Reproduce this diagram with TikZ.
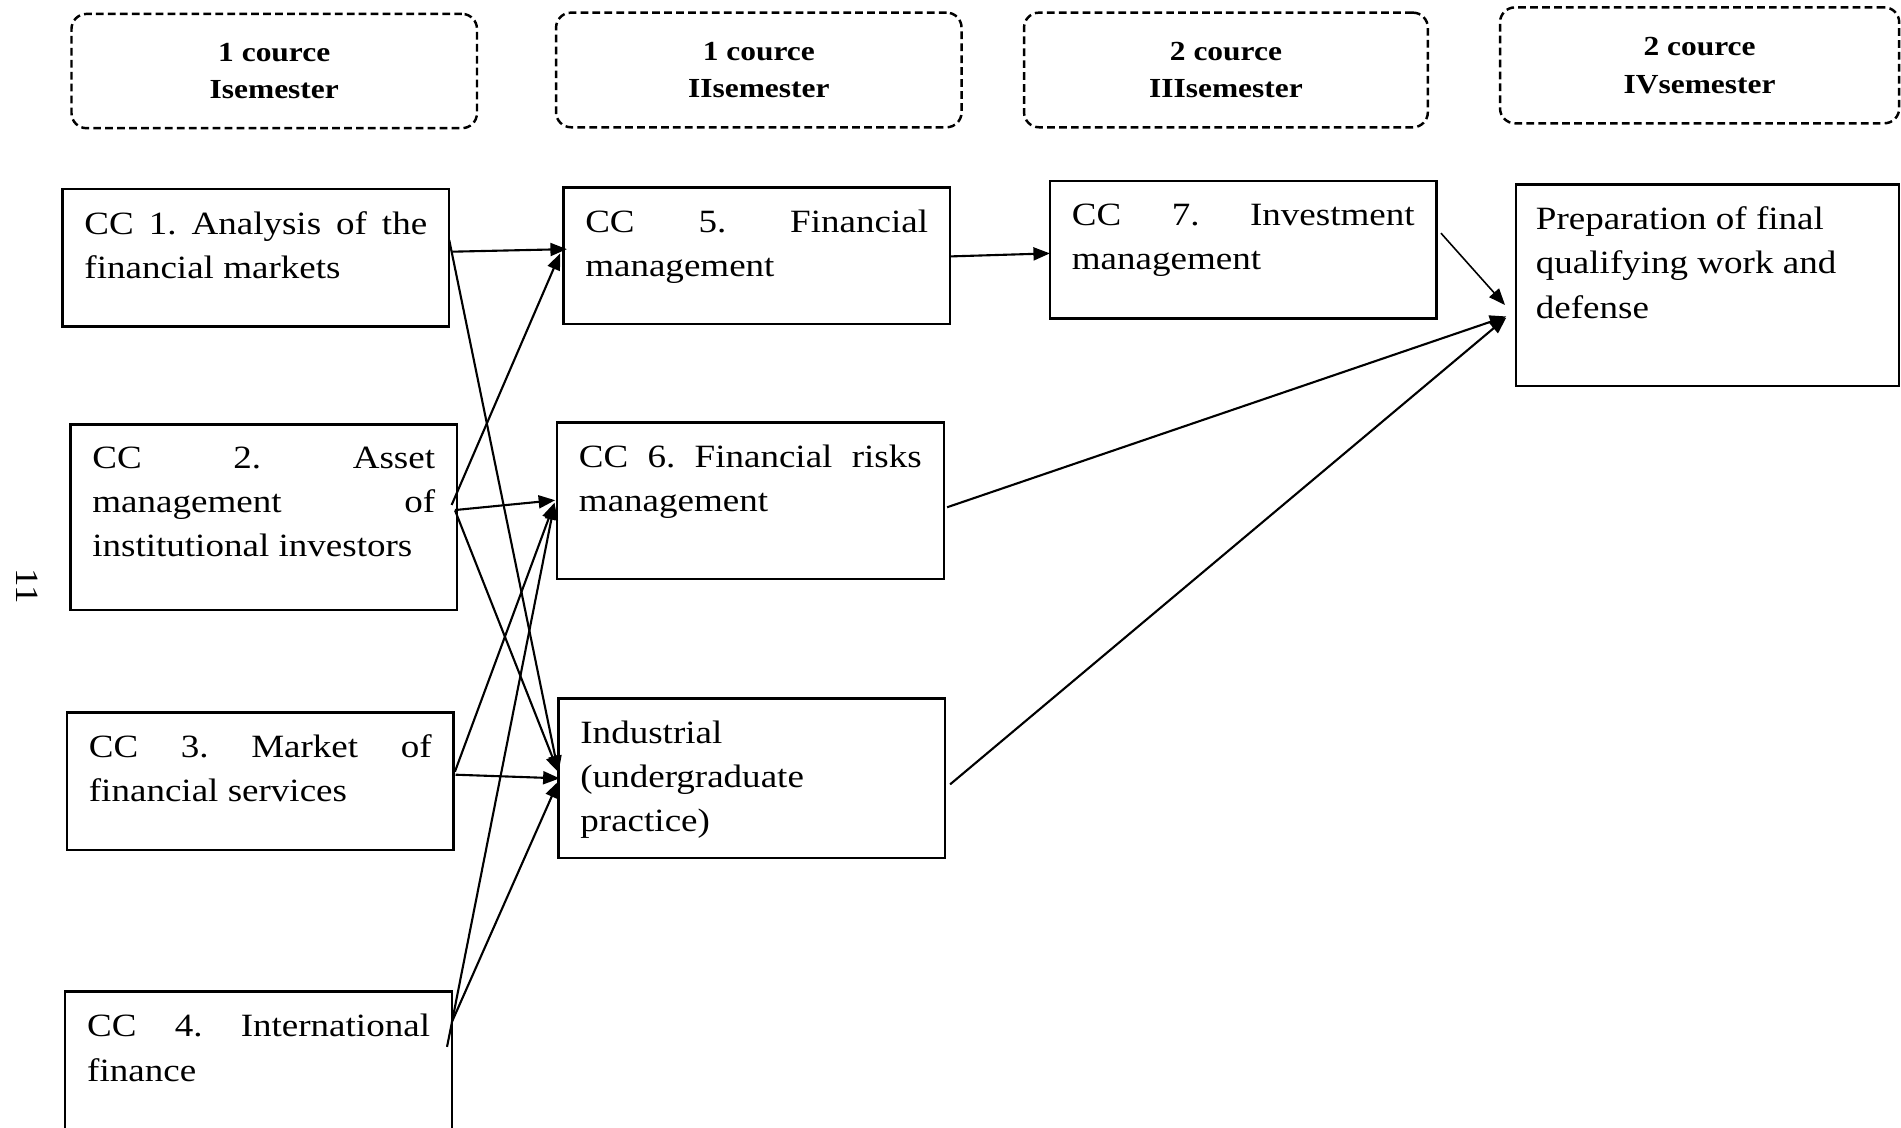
\documentclass[tikz,border=0pt]{standalone}
\usepackage{fontspec}
\setmainfont{Liberation Serif}[FakeStretch=1.14]
\usetikzlibrary{arrows.meta,calc}
\frenchspacing
\newcommand{\bodyfont}{\fontsize{9.25}{12.6}\selectfont}
\newcommand{\hdrfont}{\fontsize{7.85}{10.7}\selectfont\bfseries}
\newcommand{\jl}[1]{\makebox[\linewidth][s]{#1}}
\newcommand{\boxtext}[2]{\parbox[t][#1][t]{3.43cm}{#2}}
\begin{document}
\begin{tikzpicture}[x=0.012124cm,y=-0.012124cm,
  hdr/.style={draw, line width=0.7pt, dash pattern=on 2.2pt off 1.2pt, rounded corners=0.15cm, align=center, font=\hdrfont, inner sep=0pt},
  cbox/.style={draw, line width=0.7pt, anchor=north west, inner xsep=0.22cm, inner ysep=0.225cm, outer sep=0pt, font=\bodyfont},
  conn/.style={line width=0.6pt, -{Triangle[length=1.65mm,width=1.3mm]}}]
\useasboundingbox (0,0) rectangle (1568,930);

% header boxes
\node[hdr, minimum width=4.057cm, minimum height=1.143cm] (h1) at (226.2,58.6) {1 cource\\Isemester};
\node[hdr, minimum width=4.057cm, minimum height=1.147cm] (h2) at (625.9,57.7) {1 cource\\IIsemester};
\node[hdr, minimum width=4.040cm, minimum height=1.147cm] (h3) at (1011.2,57.7) {2 cource\\IIIsemester};
\node[hdr, minimum width=3.994cm, minimum height=1.160cm] (h4) at (1401.9,53.9) {2 cource\\IVsemester};

% course boxes
\node[cbox] (cc1) at (51.5,156) {\boxtext{0.925cm}{\jl{CC 1. Analysis of the}\\financial markets}};
\node[cbox] (cc2) at (58,350) {\boxtext{1.405cm}{\jl{CC 2. Asset}\\\jl{management of}\\institutional investors}};
\node[cbox] (cc3) at (55.2,587.5) {\boxtext{0.926cm}{\jl{CC 3. Market of}\\financial services}};
\node[cbox] (cc4) at (53.8,818) {\boxtext{1.10cm}{\jl{CC 4. International}\\finance}};
\node[cbox] (cc5) at (464.6,154.5) {\boxtext{0.92cm}{\jl{CC 5. Financial}\\management}};
\node[cbox] (cc6) at (459.4,348.6) {\boxtext{1.116cm}{\jl{CC 6. Financial risks}\\management}};
\node[cbox] (ind) at (460.6,576) {\boxtext{1.15cm}{Industrial\\(undergraduate\\practice)}};
\node[cbox] (cc7) at (866,149.3) {\boxtext{0.924cm}{\jl{CC 7. Investment}\\management}};
\node[cbox, inner xsep=0.2cm] (prep) at (1250.4,152) {\boxtext{1.567cm}{Preparation of final\\qualifying work and\\defense}};

% page number
\node[rotate=-90, font=\fontsize{9.25}{11}\selectfont, inner sep=0pt] (pg) at (22.7,483.7) {11};

% connectors
\draw[conn] ($(cc1.north east)+(2.5,51.6)$) -- ($(cc5.north west)+(3,51)$);
\draw[conn] ($(cc1.north east)+(0,42)$) -- ($(ind.north west)+(0,61)$);
\draw[conn] ($(cc2.north east)+(-4.5,66.5)$) -- ($(cc5.north west)+(-2.5,54.5)$);
\draw[conn] ($(cc2.north east)+(-1.7,70.7)$) -- ($(cc6.north west)+(-1.5,64)$);
\draw[conn] ($(cc2.north east)+(-1.7,71)$) -- ($(ind.north west)+(0,61)$);
\draw[conn] ($(cc3.north east)+(1,49)$) -- ($(cc6.north west)+(-2,66)$);
\draw[conn] ($(cc3.north east)+(1.5,51.5)$) -- ($(ind.north west)+(1,66)$);
\draw[conn] ($(cc4.north east)+(-4.1,45.5)$) -- ($(cc6.north west)+(-2,66.5)$);
\draw[conn] ($(cc4.north east)+(0,24.7)$) -- ($(ind.north west)+(0,68.5)$);
\draw[conn] ($(cc5.north east)+(0,57)$) -- ($(cc7.north west)+(0,59.7)$);
\draw[conn, line width=0.45pt] ($(cc7.north east)+(3.5,43)$) -- ($(prep.north west)+(-9,99.6)$);
\draw[conn] ($(cc6.north east)+(2.8,69.8)$) -- ($(prep.north west)+(-8,109)$);
\draw[conn] ($(ind.north east)+(4,71)$) -- ($(prep.north west)+(-8,110)$);
\end{tikzpicture}
\end{document}
